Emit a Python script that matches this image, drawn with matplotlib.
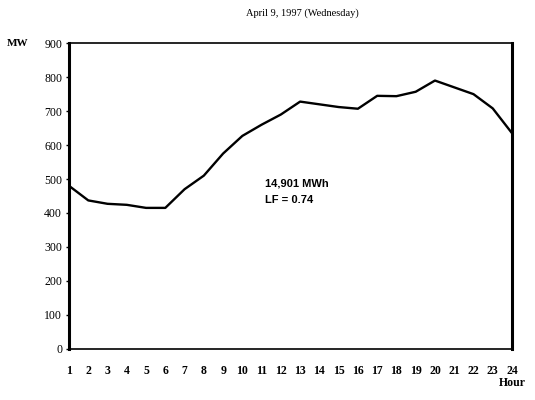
import matplotlib.pyplot as plt

# hourly load, April 9 1997
hours = list(range(1, 25))
load_mw = [480, 437, 427, 424, 415, 415, 470, 510, 575, 627, 660, 690,
           728, 720, 712, 707, 745, 744, 757, 790, 770, 750, 708, 635]
yticks = [0, 100, 200, 300, 400, 500, 600, 700, 800, 900]
title = "April 9, 1997 (Wednesday)"
energy_txt = "14,901 MWh"
lf_txt = "LF = 0.74"

fig = plt.figure(figsize=(5.35, 4), dpi=100)
ax = fig.add_axes([0.129, 0.128, 0.828, 0.764])

ax.plot(hours, load_mw, color='black', linewidth=1.7)

ax.set_xlim(1, 24)
ax.set_ylim(0, 900)
ax.set_xticks(hours)
ax.set_xticklabels([str(h) for h in hours], fontsize=8.5, fontweight='bold',
                   family='Liberation Serif')
ax.set_yticks(yticks)
ax.set_yticklabels([str(v) for v in yticks], fontsize=8.5,
                   family='Liberation Serif')
ax.tick_params(axis='x', length=0, pad=12)
ax.tick_params(axis='y', length=2, width=1, pad=3)

for side in ['left', 'right']:
    ax.spines[side].set_linewidth(2.2)
for side in ['top', 'bottom']:
    ax.spines[side].set_linewidth(1.2)

ax.text(11.2, 486, energy_txt, fontsize=8, fontweight='bold',
        family='Liberation Sans', va='center', ha='left')
ax.text(11.2, 439, lf_txt, fontsize=8, fontweight='bold',
        family='Liberation Sans', va='center', ha='left')

fig.text(0.565, 0.967, title, fontsize=7.5, family='Liberation Serif',
         ha='center', va='center')
fig.text(0.012, 0.892, "MW", fontsize=8, fontweight='bold',
         family='Liberation Serif', ha='left', va='center')
fig.text(0.982, 0.043, "Hour", fontsize=8.5, fontweight='bold',
         family='Liberation Serif', ha='right', va='center')

fig.savefig('out.png', dpi=100)
